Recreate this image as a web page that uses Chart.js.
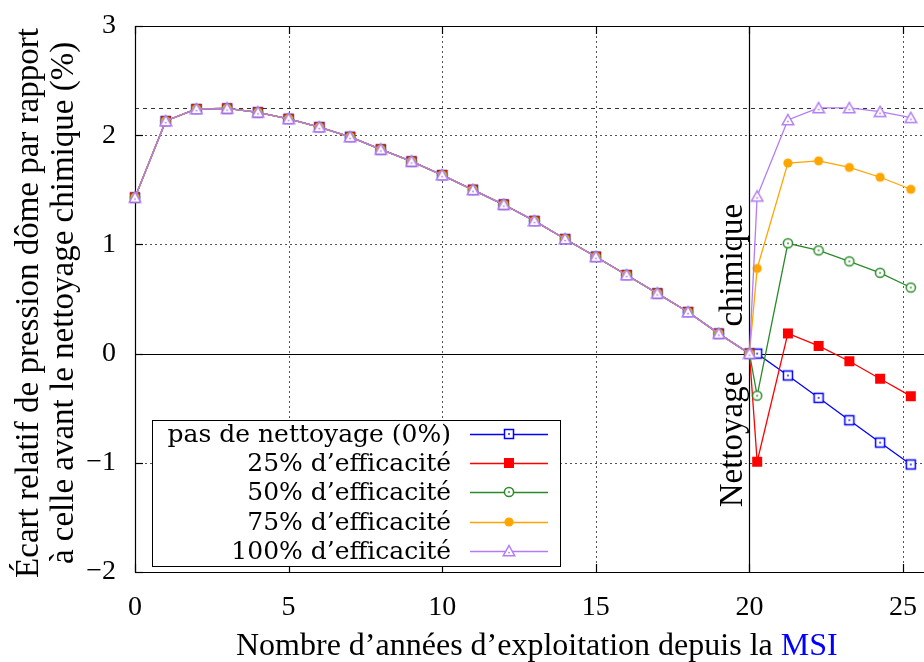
<!DOCTYPE html>
<html>
<head>
<meta charset="utf-8">
<script src="https://cdn.jsdelivr.net/npm/chart.js@4/dist/chart.umd.min.js"></script>
<style>
  body { margin: 0; background: #fff; }
  #wrap { width: 924px; height: 662px; }
</style>
</head>
<body>
<div id="wrap"><canvas id="chart" width="924" height="662"></canvas></div>
<script>
// years of operation before the chemical cleaning
const years = [0, 1, 2, 3, 4, 5, 6, 7, 8, 9, 10, 11, 12, 13, 14, 15, 16, 17, 18, 19, 20];
const beforeVals = [1.43, 2.13, 2.24, 2.245, 2.21, 2.15, 2.075, 1.985, 1.87, 1.76, 1.635,
                    1.50, 1.365, 1.215, 1.05, 0.887, 0.72, 0.552, 0.381, 0.183, 0];
// years after the cleaning
const afterYears = [20.25, 21.25, 22.25, 23.25, 24.25, 25.25];
const after0 = [0, -0.20, -0.405, -0.61, -0.815, -1.015];
const after25 = [-0.99, 0.185, 0.07, -0.07, -0.23, -0.39];
const after50 = [-0.385, 1.01, 0.945, 0.845, 0.74, 0.605];
const after75 = [0.78, 1.745, 1.765, 1.705, 1.615, 1.505];
const after100 = [1.44, 2.14, 2.25, 2.25, 2.215, 2.16];
const refLevel = 2.245;

const seriesLabels = ['pas de nettoyage (0%)', '25% d\u2019efficacit\u00e9', '50% d\u2019efficacit\u00e9',
                      '75% d\u2019efficacit\u00e9', '100% d\u2019efficacit\u00e9'];
const seriesColors = ['#0000ff', '#ff0000', '#2a8a2a', '#ffa500', '#b27cf6'];
const xTicks = [0, 5, 10, 15, 20, 25];
const yTicks = [-2, -1, 0, 1, 2, 3];

const SERIF = '"Liberation Serif", "Times New Roman", serif';
const LEGEND_FONT = '25px "DejaVu Serif", serif';

function marker(kind, color) {
    const c = document.createElement('canvas');
    c.width = 14; c.height = 14;
    const g = c.getContext('2d');
    g.strokeStyle = color; g.lineWidth = 1.5;
    if (kind === 'sqOpen') {
        g.fillStyle = '#fff'; g.fillRect(2.5, 2.5, 9, 9);
        g.strokeRect(2.5, 2.5, 9, 9);
        g.fillStyle = color; g.fillRect(6.2, 6.2, 1.6, 1.6);
    } else if (kind === 'sqFill') {
        g.fillStyle = color; g.fillRect(2, 2, 10, 10);
    } else if (kind === 'circOpen') {
        g.beginPath(); g.arc(7, 7, 4.6, 0, Math.PI * 2);
        g.fillStyle = '#fff'; g.fill(); g.stroke();
        g.fillStyle = color; g.fillRect(6.2, 6.2, 1.6, 1.6);
    } else if (kind === 'circFill') {
        g.fillStyle = color;
        g.beginPath(); g.arc(7, 7, 4.6, 0, Math.PI * 2); g.fill();
    } else if (kind === 'triOpen') {
        g.beginPath(); g.moveTo(7, 1.5); g.lineTo(12.8, 11.8); g.lineTo(1.2, 11.8); g.closePath();
        g.fillStyle = '#fff'; g.fill(); g.stroke();
        g.fillStyle = color; g.fillRect(6.2, 7.8, 1.6, 1.6);
    }
    return c;
}
const markerKinds = ['sqOpen', 'sqFill', 'circOpen', 'circFill', 'triOpen'];
const markers = markerKinds.map((k, i) => marker(k, seriesColors[i]));
const afterSets = [after0, after25, after50, after75, after100];

function buildData(after) {
    return years.map((x, i) => ({ x, y: beforeVals[i] }))
        .concat(afterYears.map((x, i) => ({ x, y: after[i] })));
}

const datasets = seriesLabels.map((label, i) => ({
    label,
    data: buildData(afterSets[i]),
    borderColor: seriesColors[i],
    backgroundColor: seriesColors[i],
    borderWidth: 1.3,
    pointStyle: markers[i],
    pointRadius: 6,
    showLine: true,
    clip: false,
    order: 5 - i
}));

// grid, axes lines and ticks drawn in gnuplot style
const frame = {
    id: 'frame',
    beforeDatasetsDraw(chart) {
        const { ctx, chartArea: a, scales: { x, y } } = chart;
        ctx.save();
        ctx.lineWidth = 1;
        ctx.strokeStyle = '#555';
        ctx.setLineDash([2, 3]);
        xTicks.forEach(v => {
            const px = Math.round(x.getPixelForValue(v)) + 0.5;
            ctx.beginPath(); ctx.moveTo(px, a.top); ctx.lineTo(px, a.bottom); ctx.stroke();
        });
        yTicks.forEach(v => {
            const py = Math.round(y.getPixelForValue(v)) + 0.5;
            ctx.beginPath(); ctx.moveTo(a.left, py); ctx.lineTo(a.right, py); ctx.stroke();
        });
        ctx.strokeStyle = '#333';
        ctx.setLineDash([4, 4]);
        const ry = Math.round(y.getPixelForValue(refLevel)) + 0.5;
        ctx.beginPath(); ctx.moveTo(a.left, ry); ctx.lineTo(a.right, ry); ctx.stroke();

        ctx.setLineDash([]);
        ctx.strokeStyle = '#000';
        ctx.lineWidth = 1.2;
        const zy = Math.round(y.getPixelForValue(0)) + 0.5;
        ctx.beginPath(); ctx.moveTo(a.left, zy); ctx.lineTo(a.right, zy); ctx.stroke();
        const cx = Math.round(x.getPixelForValue(20)) + 0.5;
        ctx.beginPath(); ctx.moveTo(cx, a.top); ctx.lineTo(cx, a.bottom); ctx.stroke();

        // border
        ctx.beginPath();
        ctx.moveTo(a.right, a.top + 0.5); ctx.lineTo(a.left + 0.5, a.top + 0.5);
        ctx.lineTo(a.left + 0.5, a.bottom + 0.5); ctx.lineTo(a.right, a.bottom + 0.5);
        ctx.stroke();
        // inward ticks
        xTicks.forEach(v => {
            const px = Math.round(x.getPixelForValue(v)) + 0.5;
            ctx.beginPath(); ctx.moveTo(px, a.bottom); ctx.lineTo(px, a.bottom - 8);
            ctx.moveTo(px, a.top); ctx.lineTo(px, a.top + 8); ctx.stroke();
        });
        yTicks.forEach(v => {
            const py = Math.round(y.getPixelForValue(v)) + 0.5;
            ctx.beginPath(); ctx.moveTo(a.left, py); ctx.lineTo(a.left + 8, py); ctx.stroke();
        });
        ctx.restore();
    },
    afterDraw(chart) {
        const { ctx, scales: { x, y } } = chart;
        ctx.save();
        ctx.fillStyle = '#000';
        ctx.font = '33px ' + SERIF;

        // y title
        ctx.save();
        ctx.rotate(-Math.PI / 2);
        ctx.textAlign = 'center';
        ctx.textBaseline = 'middle';
        ctx.fillText('\u00c9cart relatif de pression d\u00f4me par rapport', -303, 29);
        ctx.fillText('\u00e0 celle avant le nettoyage chimique (%)', -303, 64);
        ctx.restore();

        // cleaning annotation, split around the zero line
        ctx.save();
        ctx.translate(742, y.getPixelForValue(0));
        ctx.rotate(-Math.PI / 2);
        ctx.textBaseline = 'alphabetic';
        ctx.textAlign = 'left';
        ctx.fillText('chimique', 27, 0);
        ctx.textAlign = 'right';
        ctx.fillText('Nettoyage', -18, 0);
        ctx.restore();

        // x title with blue MSI
        ctx.font = '32px ' + SERIF;
        const t1 = 'Nombre d\u2019ann\u00e9es d\u2019exploitation depuis la ';
        const t2 = 'MSI';
        const w1 = ctx.measureText(t1).width;
        const sx = 236;
        ctx.textBaseline = 'alphabetic';
        ctx.textAlign = 'left';
        ctx.fillText(t1, sx, 655);
        ctx.fillStyle = '#0000ff';
        ctx.fillText(t2, sx + w1, 655);
        ctx.fillStyle = '#000';

        // legend
        ctx.font = LEGEND_FONT;
        ctx.fillStyle = '#fff';
        ctx.fillRect(153, 420, 408, 146);
        ctx.strokeStyle = '#000';
        ctx.lineWidth = 1;
        ctx.strokeRect(152.5, 420.5, 408, 146);
        const rows = [434, 463, 492, 522, 551];
        ctx.textAlign = 'right';
        ctx.textBaseline = 'middle';
        seriesLabels.forEach((lab, i) => {
            ctx.fillStyle = '#000';
            ctx.fillText(lab, 451, rows[i] + 1);
            ctx.strokeStyle = seriesColors[i];
            ctx.lineWidth = 1.3;
            ctx.beginPath(); ctx.moveTo(470, rows[i] + 0.5); ctx.lineTo(548, rows[i] + 0.5); ctx.stroke();
            ctx.drawImage(markers[i], 509 - 7, rows[i] - 7);
        });
        ctx.restore();
    }
};

new Chart(document.getElementById('chart'), {
    type: 'scatter',
    data: { datasets },
    options: {
        responsive: false,
        animation: false,
        layout: { autoPadding: false, padding: { top: 26, right: 0, left: 0, bottom: 0 } },
        plugins: { legend: { display: false }, tooltip: { enabled: false } },
        scales: {
            x: {
                type: 'linear',
                min: 0,
                max: 25.68,
                afterFit(scale) { scale.height = 90; scale.paddingLeft = 0; scale.paddingRight = 0; },
                afterBuildTicks(scale) { scale.ticks = xTicks.map(v => ({ value: v })); },
                grid: { display: false, drawTicks: false },
                border: { display: false },
                ticks: { color: '#000', padding: 19, maxRotation: 0, font: { family: SERIF, size: 28 } }
            },
            y: {
                type: 'linear',
                min: -2,
                max: 3,
                afterFit(scale) { scale.width = 135; scale.paddingTop = 0; scale.paddingBottom = 0; },
                afterBuildTicks(scale) { scale.ticks = yTicks.map(v => ({ value: v })); },
                grid: { display: false, drawTicks: false },
                border: { display: false },
                ticks: {
                    color: '#000', padding: 19, font: { family: SERIF, size: 28 },
                    callback: v => String(v).replace('-', '\u2212')
                }
            }
        }
    },
    plugins: [frame]
});
</script>
</body>
</html>
